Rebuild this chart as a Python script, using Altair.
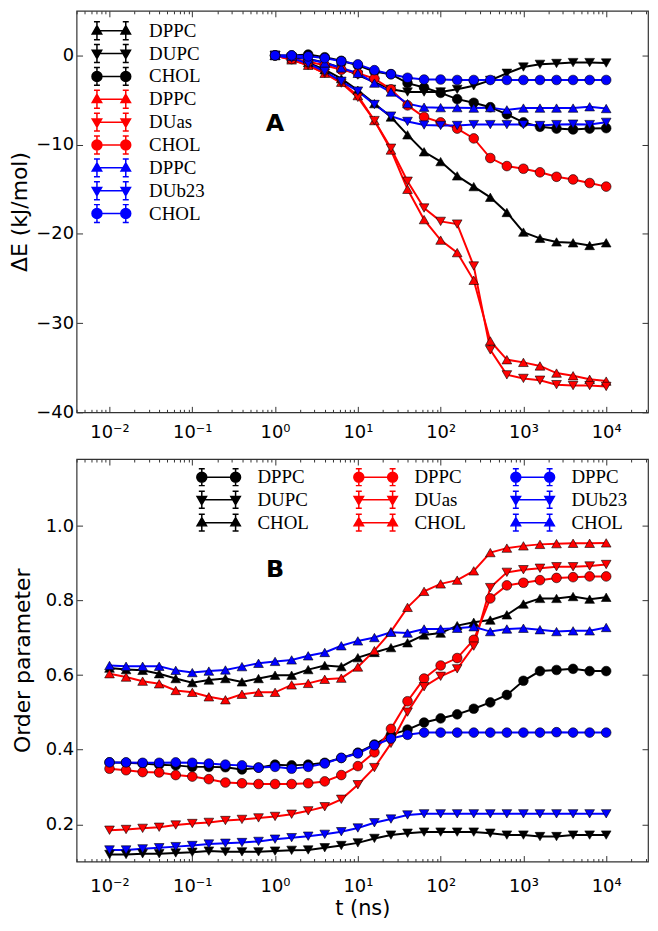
import altair as alt
import pandas as pd

# ---------------- data ----------------
tA = [1.0, 1.585, 2.512, 3.981, 6.31, 10.0, 15.85, 25.12, 39.81, 63.1, 100.0,
      158.5, 251.2, 398.1, 631.0, 1000.0, 1585.0, 2512.0, 3981.0, 6310.0, 10000.0]
tB = [0.01, 0.01585, 0.02512, 0.03981, 0.0631, 0.1, 0.1585, 0.2512, 0.3981, 0.631] + tA

# Panel A (Delta E, kJ/mol)
A_black_DPPC = [0, -0.3, -0.8, -1.6, -2.6, -3.9, -5.4, -6.9, -8.9, -10.8, -11.9, -13.5, -14.7, -15.9, -17.6, -19.8, -20.5, -20.9, -21.0, -21.3, -21.0]
A_black_DUPC = [0, -0.2, -0.4, -0.8, -1.4, -2.2, -3.0, -3.8, -4.1, -4.1, -4.1, -3.8, -3.4, -2.8, -2.0, -1.3, -1.0, -0.9, -0.8, -0.8, -0.85]
A_black_CHOL = [0, 0, 0.1, -0.2, -0.6, -1.1, -1.8, -2.1, -3.1, -3.6, -4.2, -4.9, -5.3, -5.8, -6.6, -7.5, -8.0, -8.2, -8.3, -8.2, -8.15]
A_red_DPPC = [0, -0.5, -1.1, -2.0, -3.0, -4.5, -7.3, -10.6, -15.0, -18.4, -20.7, -22.1, -25.2, -32.0, -34.1, -34.4, -34.8, -35.6, -35.9, -36.3, -36.5]
A_red_DUas = [0, -0.5, -1.1, -2.0, -3.1, -4.7, -7.3, -10.4, -14.1, -17.1, -18.6, -18.9, -23.6, -33.0, -35.8, -36.2, -36.4, -36.9, -37.0, -37.0, -37.1]
A_red_CHOL = [0, -0.4, -0.7, -1.1, -1.6, -2.0, -2.6, -3.8, -5.6, -6.9, -7.5, -8.2, -9.3, -11.5, -12.4, -12.7, -13.1, -13.6, -13.9, -14.3, -14.7]
A_blue_DPPC = [0, -0.1, -0.4, -0.85, -1.4, -2.0, -3.1, -4.1, -5.4, -5.8, -5.85, -5.85, -5.9, -5.85, -6.1, -5.9, -5.9, -5.9, -5.9, -5.75, -5.95]
A_blue_DUb23 = [0, -0.3, -0.9, -1.8, -2.9, -4.0, -5.5, -6.8, -7.4, -7.8, -7.85, -7.85, -7.75, -7.75, -7.75, -7.75, -7.85, -7.75, -7.7, -7.75, -7.5]
A_blue_CHOL = [0, 0, -0.1, -0.3, -0.65, -1.0, -1.65, -2.1, -2.5, -2.7, -2.7, -2.75, -2.75, -2.75, -2.75, -2.75, -2.75, -2.75, -2.75, -2.75, -2.75]

# Panel B (order parameter)
B_black_DPPC = [0.366, 0.365, 0.363, 0.360, 0.358, 0.354, 0.354, 0.353, 0.347, 0.352, 0.360, 0.358, 0.360, 0.365, 0.378, 0.392,
                0.414, 0.440, 0.454, 0.473, 0.484, 0.495, 0.510, 0.527, 0.547, 0.585, 0.611, 0.614, 0.617, 0.611, 0.611]
B_black_DUPC = [0.119, 0.119, 0.121, 0.121, 0.123, 0.125, 0.128, 0.126, 0.126, 0.126, 0.128, 0.130, 0.131, 0.137, 0.143, 0.150,
                0.162, 0.171, 0.176, 0.179, 0.179, 0.179, 0.179, 0.176, 0.171, 0.171, 0.167, 0.167, 0.171, 0.171, 0.171]
B_black_CHOL = [0.619, 0.615, 0.613, 0.604, 0.591, 0.580, 0.587, 0.591, 0.582, 0.591, 0.600, 0.600, 0.615, 0.626, 0.623, 0.647,
                0.661, 0.674, 0.687, 0.708, 0.713, 0.733, 0.742, 0.748, 0.762, 0.791, 0.806, 0.806, 0.811, 0.804, 0.809]
B_red_DPPC = [0.349, 0.345, 0.340, 0.339, 0.332, 0.328, 0.321, 0.312, 0.310, 0.308, 0.308, 0.308, 0.310, 0.315, 0.332, 0.356,
              0.393, 0.456, 0.530, 0.591, 0.626, 0.646, 0.695, 0.806, 0.841, 0.848, 0.855, 0.861, 0.863, 0.865, 0.865]
B_red_DUas = [0.184, 0.186, 0.189, 0.192, 0.198, 0.202, 0.205, 0.210, 0.213, 0.217, 0.221, 0.227, 0.236, 0.247, 0.267, 0.306,
              0.352, 0.417, 0.501, 0.569, 0.597, 0.617, 0.678, 0.835, 0.876, 0.883, 0.887, 0.891, 0.891, 0.893, 0.897]
B_red_CHOL = [0.604, 0.595, 0.584, 0.577, 0.559, 0.554, 0.542, 0.534, 0.549, 0.554, 0.554, 0.574, 0.578, 0.589, 0.592, 0.622,
              0.666, 0.717, 0.782, 0.825, 0.845, 0.855, 0.880, 0.929, 0.941, 0.947, 0.951, 0.953, 0.954, 0.954, 0.955]
B_blue_DPPC = [0.366, 0.366, 0.365, 0.365, 0.366, 0.365, 0.363, 0.360, 0.358, 0.352, 0.354, 0.349, 0.354, 0.363, 0.378, 0.390,
               0.412, 0.430, 0.440, 0.446, 0.446, 0.446, 0.446, 0.446, 0.446, 0.446, 0.446, 0.447, 0.446, 0.446, 0.446]
B_blue_DUb23 = [0.131, 0.131, 0.134, 0.137, 0.140, 0.143, 0.147, 0.149, 0.151, 0.154, 0.160, 0.164, 0.168, 0.173, 0.180, 0.190,
                0.204, 0.214, 0.225, 0.228, 0.228, 0.228, 0.228, 0.228, 0.228, 0.228, 0.228, 0.228, 0.228, 0.228, 0.228]
B_blue_CHOL = [0.626, 0.624, 0.624, 0.624, 0.613, 0.607, 0.611, 0.614, 0.623, 0.632, 0.637, 0.641, 0.652, 0.661, 0.679, 0.692,
               0.701, 0.715, 0.713, 0.724, 0.724, 0.726, 0.730, 0.717, 0.724, 0.726, 0.722, 0.717, 0.719, 0.719, 0.728]

seriesA = [
    ("black", "DPPC", "up", A_black_DPPC),
    ("black", "DUPC", "down", A_black_DUPC),
    ("black", "CHOL", "circle", A_black_CHOL),
    ("red", "DPPC", "up", A_red_DPPC),
    ("red", "DUas", "down", A_red_DUas),
    ("red", "CHOL", "circle", A_red_CHOL),
    ("blue", "DPPC", "up", A_blue_DPPC),
    ("blue", "DUb23", "down", A_blue_DUb23),
    ("blue", "CHOL", "circle", A_blue_CHOL),
]
seriesB = [
    ("black", "DPPC", "circle", B_black_DPPC),
    ("black", "DUPC", "down", B_black_DUPC),
    ("black", "CHOL", "up", B_black_CHOL),
    ("red", "DPPC", "circle", B_red_DPPC),
    ("red", "DUas", "down", B_red_DUas),
    ("red", "CHOL", "up", B_red_CHOL),
    ("blue", "DPPC", "circle", B_blue_DPPC),
    ("blue", "DUb23", "down", B_blue_DUb23),
    ("blue", "CHOL", "up", B_blue_CHOL),
]

x_major = [0.01, 0.1, 1, 10, 100, 1000, 10000]
x_minor = [0.004, 0.005, 0.006, 0.007, 0.008, 0.009,
           0.02, 0.03, 0.04, 0.05, 0.06, 0.07, 0.08, 0.09,
           0.2, 0.3, 0.4, 0.5, 0.6, 0.7, 0.8, 0.9,
           2, 3, 4, 5, 6, 7, 8, 9,
           20, 30, 40, 50, 60, 70, 80, 90,
           200, 300, 400, 500, 600, 700, 800, 900,
           2000, 3000, 4000, 5000, 6000, 7000, 8000, 9000,
           20000, 30000]
yA_ticks = [-40, -30, -20, -10, 0]
yB_ticks = [0.2, 0.4, 0.6, 0.8, 1.0]
x_sup = {-2: "⁻²", -1: "⁻¹", 0: "⁰", 1: "¹", 2: "²", 3: "³", 4: "⁴"}

group_names = ["black", "red", "blue"]
group_colors = ["#000000", "#ff0000", "#0000ff"]
color_of = dict(zip(group_names, group_colors))


# ---------------- helpers ----------------
def long_df(series, t):
    rows = []
    for i, (grp, name, marker, vals) in enumerate(series):
        for tt, v in zip(t, vals):
            rows.append({"t": tt, "v": v, "grp": grp, "marker": marker, "sid": f"{i}|{name}"})
    return pd.DataFrame(rows)


def f(v):
    s = f"{v:.3f}".rstrip("0").rstrip(".")
    return "0" if s in ("-0", "") else s


def legend_path(marker, L, dx=0.0, r=0.5, h=1.0, c=0.3):
    p = f"M{f(-L + dx)},0L{f(L + dx)},0"
    for cx in (-L + dx, L + dx):
        p += f"M{f(cx)},{f(-h)}L{f(cx)},{f(h)}"
        p += f"M{f(cx - c)},{f(-h)}L{f(cx + c)},{f(-h)}M{f(cx - c)},{f(h)}L{f(cx + c)},{f(h)}"
        if marker == "up":
            p += f"M{f(cx)},{f(-r)}L{f(cx + 0.95 * r)},{f(0.65 * r)}L{f(cx - 0.95 * r)},{f(0.65 * r)}Z"
        elif marker == "down":
            p += f"M{f(cx)},{f(r)}L{f(cx + 0.95 * r)},{f(-0.65 * r)}L{f(cx - 0.95 * r)},{f(-0.65 * r)}Z"
        else:
            p += (f"M{f(cx - r)},0A{f(r)},{f(r)},0,1,1,{f(cx + r)},0"
                  f"A{f(r)},{f(r)},0,1,1,{f(cx - r)},0Z")
    return p


MAJOR_TEST = "abs(log(datum.value)/LN10-round(log(datum.value)/LN10))<0.0001"
X_LABEL_EXPR = "".join(
    f"abs(datum.value/{10.0 ** k}-1)<0.000001?'10{s}':" for k, s in x_sup.items()
) + "''"
X_TICK_SIZE = {"expr": f"{MAJOR_TEST}?-6:-3"}
Y_TICK_SIZE = {"expr": "-6"}

xscale = alt.Scale(type="log", domain=[0.004, 32000])


def panel(series, t, ydomain, yticks, yfmt, ytitle, xtitle, ytitlepad, xlabpad, xtitlepad,
          L, dx, bar_h, leg_font, leg_size, col_pad, leg_x, leg_y, columns, row_pad,
          label_text, label_pos, height):
    df = long_df(series, t)
    yscale = alt.Scale(domain=ydomain, nice=False, zero=False)
    xvals = x_major + x_minor

    x_bottom = alt.X("t:Q", scale=xscale, title=xtitle,
                     axis=alt.Axis(orient="bottom", values=xvals, labelExpr=X_LABEL_EXPR,
                                   tickSize=X_TICK_SIZE, labelPadding=xlabpad, domain=False,
                                   grid=False, labelOverlap=False, labelFlush=False,
                                   titlePadding=xtitlepad))
    y_left = alt.Y("v:Q", scale=yscale, title=ytitle,
                   axis=alt.Axis(orient="left", values=yticks, format=yfmt,
                                 tickSize=Y_TICK_SIZE, labelPadding=9, domain=False,
                                 grid=False, titlePadding=ytitlepad))
    x_top = alt.X("t:Q", scale=xscale, title=None,
                  axis=alt.Axis(orient="top", values=xvals, labels=False, minExtent=0,
                                tickSize=X_TICK_SIZE, domain=False, grid=False))
    y_right = alt.Y("v:Q", scale=yscale, title=None,
                    axis=alt.Axis(orient="right", values=yticks, labels=False, minExtent=0,
                                  tickSize=Y_TICK_SIZE, domain=False, grid=False))

    lines = alt.Chart(df).mark_line(strokeWidth=2).encode(
        x=x_bottom, y=y_left,
        stroke=alt.Stroke("grp:N", scale=alt.Scale(domain=group_names, range=group_colors), legend=None),
        detail="sid:N",
    )
    points = alt.Chart(df).mark_point(filled=True, opacity=1, stroke="black", strokeWidth=0.6).encode(
        x=x_top, y=y_right,
        fill=alt.Fill("grp:N", scale=alt.Scale(domain=group_names, range=group_colors), legend=None),
        shape=alt.Shape("marker:N", scale=alt.Scale(domain=["up", "down", "circle"],
                                                     range=["triangle-up", "triangle-down", "circle"]),
                        legend=None),
        size=alt.Size("marker:N", scale=alt.Scale(domain=["up", "down", "circle"], range=[95, 95, 80]),
                      legend=None),
    )

    keys = [f"{i}|{s[1]}" for i, s in enumerate(series)]
    key_colors = [color_of[s[0]] for s in series]
    key_paths = [legend_path(s[2], L, dx, h=bar_h) for s in series]
    leg_df = pd.DataFrame({"key": keys, "t": [1.0] * len(keys), "v": [0.0] * len(keys)})
    leg = alt.Legend(title=None, orient="none", legendX=leg_x, legendY=leg_y,
                     symbolSize=400, symbolStrokeWidth=1.5, labelFont=leg_font,
                     labelFontSize=leg_size, labelColor="black", labelOffset=27, rowPadding=row_pad,
                     columnPadding=col_pad, columns=columns, padding=0,
                     labelExpr="split(datum.label,'|')[1]")
    legend_layer = alt.Chart(leg_df).mark_point(filled=True, opacity=1, strokeWidth=1.5).encode(
        x=alt.X("t:Q", scale=xscale, axis=None),
        y=alt.Y("v:Q", scale=yscale, axis=None),
        fill=alt.Fill("key:N", scale=alt.Scale(domain=keys, range=key_colors), legend=leg),
        stroke=alt.Stroke("key:N", scale=alt.Scale(domain=keys, range=key_colors), legend=leg),
        shape=alt.Shape("key:N", scale=alt.Scale(domain=keys, range=key_paths), legend=leg),
    ).transform_filter("false")

    lab_df = pd.DataFrame({"t": [label_pos[0]], "v": [label_pos[1]], "lab": [label_text]})
    label = alt.Chart(lab_df).mark_text(font="DejaVu Sans", fontSize=24, fontWeight="bold",
                                        color="black").encode(
        x=alt.X("t:Q", scale=xscale, axis=None),
        y=alt.Y("v:Q", scale=yscale, axis=None),
        text="lab:N",
    )

    return alt.layer(lines, points, legend_layer, label).resolve_scale(
        fill="independent", stroke="independent", shape="independent", size="independent"
    ).resolve_axis(x="independent", y="independent").properties(width=575, height=height)


chartA = panel(seriesA, tA, [-40, 5], yA_ticks, "d", "ΔE (kJ/mol)", None, 4, 17, 1,
               1.45, 0.0, 0.9, "Liberation Serif", 19, 41, 24, 9, 1, -7, "A", (1.0, -7.7), 404)
chartB = panel(seriesB, tB, [0.1, 1.18], yB_ticks, ".1f", "Order parameter", "t (ns)", 11, 22, -1,
               1.7, -0.1, 0.85, "Liberation Serif", 19, 41, 133, 7, 3, -9, "B", (1.0, 0.882), 405)

chart = alt.vconcat(chartA, chartB, spacing=12).resolve_scale(
    fill="independent", stroke="independent", shape="independent", size="independent"
).properties(
    padding={"left": 0, "top": -2, "right": 0, "bottom": 0},
    background="white",
).configure_view(
    stroke="#333333", strokeWidth=1.2
).configure_axis(
    labelFont="DejaVu Sans", labelFontSize=18, labelColor="black",
    titleFont="DejaVu Sans", titleFontSize=22, titleFontWeight="normal", titleColor="black",
    tickColor="#333333", tickWidth=1
).configure_axisBottom(titleFontSize=21)

chart.save("out.html", embed_options={"renderer": "svg", "actions": False})
